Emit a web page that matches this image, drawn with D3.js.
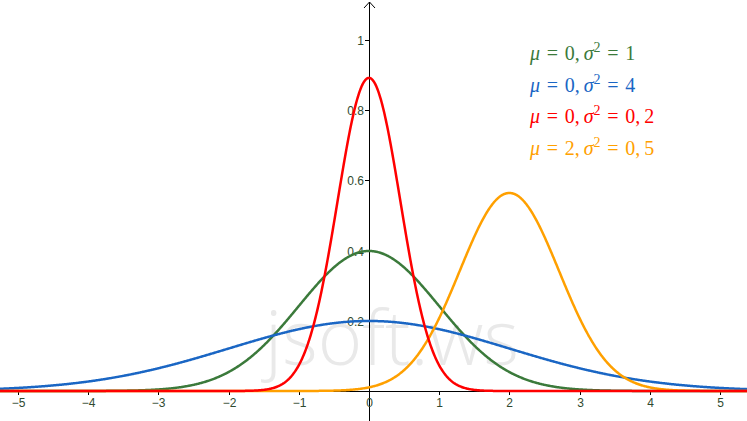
<!DOCTYPE html>
<html>
<head>
  <meta charset="utf-8">
  <title>Normal distributions</title>
  <script src="https://d3js.org/d3.v7.min.js"></script>
  <style>
    body { margin: 0; background: #fff; }
    svg { display: block; }
  </style>
</head>
<body>
  <svg id="chart" width="747" height="421"></svg>

  <script>
    // parameters of each curve, as given in the legend
    const means = [0, 0, 0, 2];
    const variances = [1, 4, 0.2, 0.5];
    const meanLabels = ["0", "0", "0", "2"];
    const varianceLabels = ["1", "4", "0,\u20092", "0,\u20095"];
    const colors = ["#3b7a3b", "#1a66c4", "#ff0000", "#ffa000"];
    const drawOrder = [0, 1, 3, 2];

    const xTicks = [-5, -4, -3, -2, -1, 0, 1, 2, 3, 4, 5];
    const yTicks = [0.2, 0.4, 0.6, 0.8, 1];

    const width = 747, height = 421;

    const svg = d3.select("#chart");

    const x = d3.scaleLinear().domain([-5.256, 5.385]).range([0, width]);
    const y = d3.scaleLinear().domain([0, 1]).range([391, 40]);

    // watermark
    svg.append("text")
        .attr("x", 392)
        .attr("y", 365)
        .attr("text-anchor", "middle")
        .attr("font-family", "'Open Sans', sans-serif")
        .attr("font-weight", 300)
        .attr("font-size", 76)
        .attr("fill", "#e9e9e9")
        .text("jsoft.ws");

    // axes
    const x0 = Math.round(x(0)) + 0.5;
    const axes = svg.append("g").attr("stroke", "#000").attr("stroke-width", 1);
    axes.append("line")
        .attr("x1", 0).attr("x2", width)
        .attr("y1", y(0) + 0.5).attr("y2", y(0) + 0.5);
    axes.append("line")
        .attr("x1", x0).attr("x2", x0)
        .attr("y1", 2).attr("y2", height);
    axes.append("path")
        .attr("fill", "none")
        .attr("d", `M${x0 - 5.5},8L${x0},2L${x0 + 5.5},8`);

    const tickColor = "#2f4a2f";

    const xt = svg.append("g").selectAll("g").data(xTicks).join("g")
        .attr("transform", d => `translate(${Math.round(x(d)) + 0.5},${y(0)})`);
    xt.append("line").attr("stroke", "#000").attr("y1", 0).attr("y2", 4);
    xt.append("text")
        .attr("y", 16)
        .attr("text-anchor", "middle")
        .attr("font-family", "'Liberation Sans', Arial, sans-serif")
        .attr("font-size", 12)
        .attr("fill", tickColor)
        .text(d => d < 0 ? "\u2212" + (-d) : d);

    const yt = svg.append("g").selectAll("g").data(yTicks).join("g")
        .attr("transform", d => `translate(${Math.round(x(0))},${Math.round(y(d)) + 0.5})`);
    yt.append("line").attr("stroke", "#000").attr("x1", -4).attr("x2", 0);
    yt.append("text")
        .attr("x", -5)
        .attr("dy", "0.35em")
        .attr("text-anchor", "end")
        .attr("font-family", "'Liberation Sans', Arial, sans-serif")
        .attr("font-size", 12)
        .attr("fill", tickColor)
        .text(d => d);

    // curves
    function density(mu, s2, t) {
      return Math.exp(-(t - mu) * (t - mu) / (2 * s2)) / Math.sqrt(2 * Math.PI * s2);
    }
    const grid = d3.range(-5.4, 5.5, 0.01);
    const line = d3.line().x(d => x(d[0])).y(d => y(d[1]));

    svg.append("g")
      .selectAll("path")
      .data(drawOrder)
      .join("path")
        .attr("fill", "none")
        .attr("stroke", i => colors[i])
        .attr("stroke-width", 2.5)
        .attr("stroke-linejoin", "round")
        .attr("d", i => line(grid.map(t => [t, density(means[i], variances[i], t)])));

    // legend
    const legend = svg.append("g")
        .attr("font-family", "'Liberation Serif', 'Times New Roman', serif")
        .attr("font-size", 20);

    const eq = "\u2004=\u2004";
    means.forEach((m, i) => {
      const t = legend.append("text")
          .attr("x", 530)
          .attr("y", 60 + i * 31.7)
          .attr("fill", colors[i]);
      t.append("tspan").attr("font-style", "italic").text("\u03bc");
      t.append("tspan").text(eq + meanLabels[i] + ",\u2009");
      t.append("tspan").attr("font-style", "italic").text("\u03c3");
      t.append("tspan").attr("font-size", 14).attr("dy", -8).text("2");
      t.append("tspan").attr("dy", 8).text(eq + varianceLabels[i]);
    });
  </script>
</body>
</html>
